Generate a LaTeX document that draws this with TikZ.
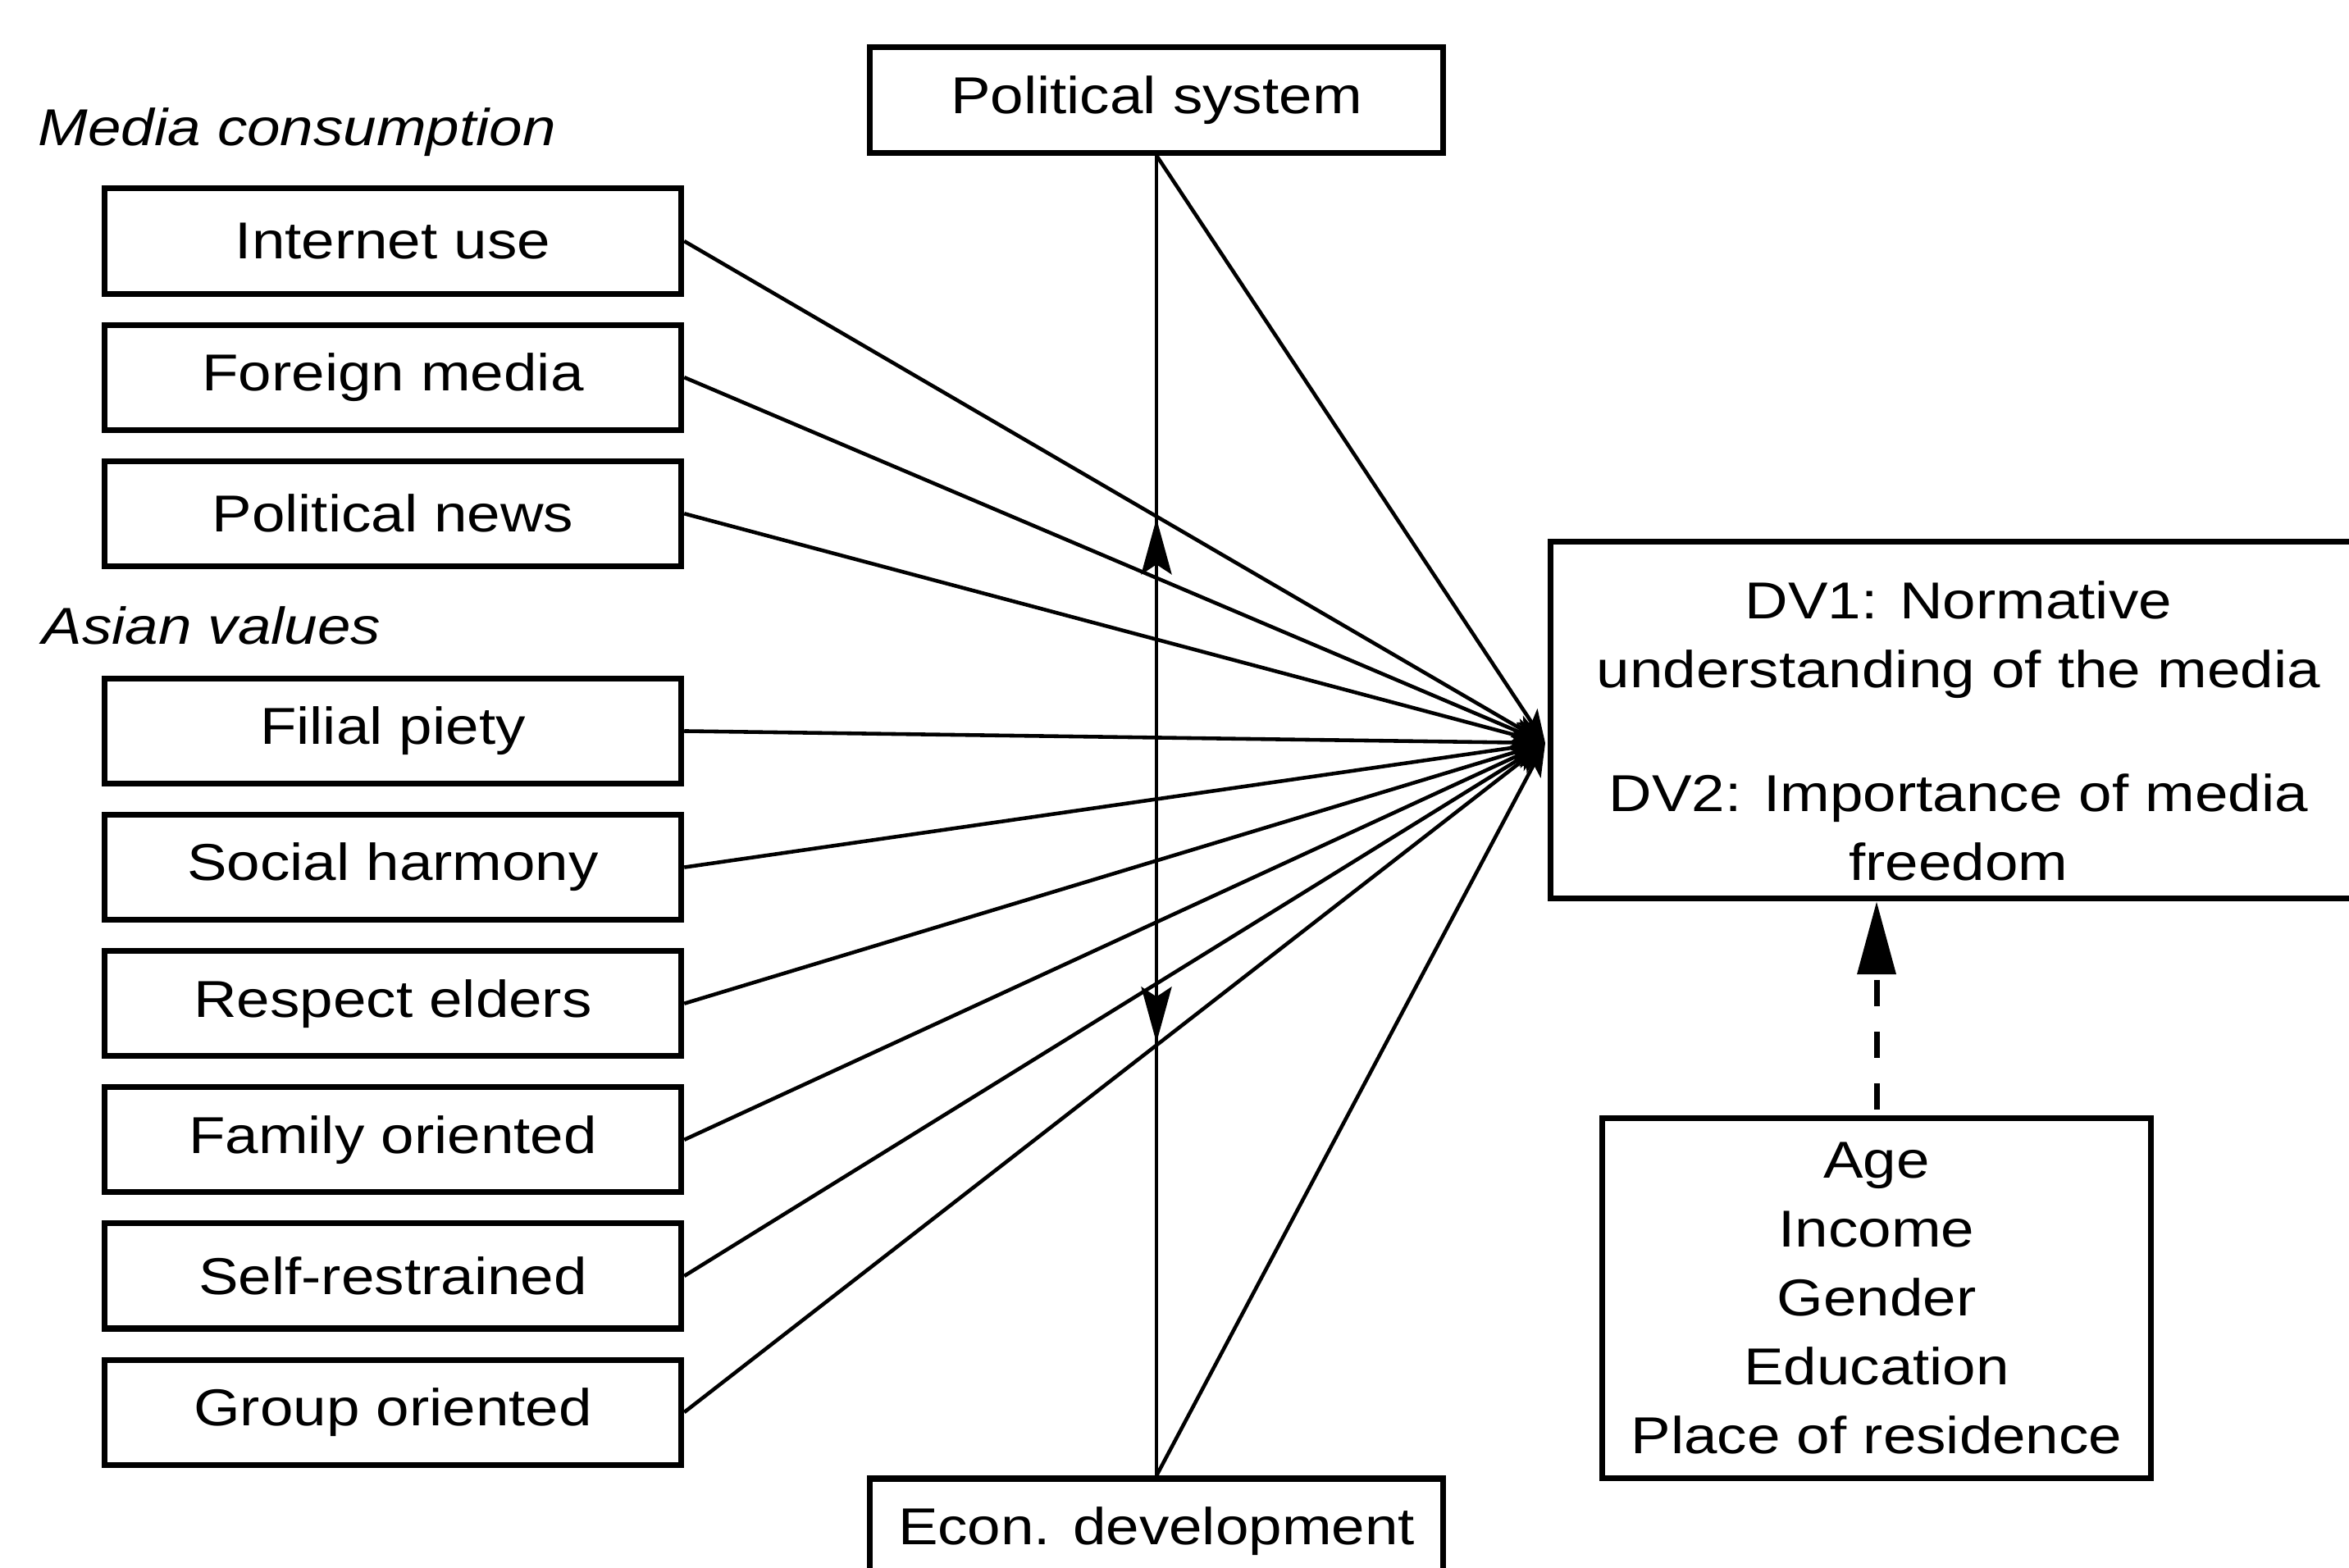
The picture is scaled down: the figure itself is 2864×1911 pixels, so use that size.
\documentclass[tikz,border=0pt]{standalone}
\usepackage{fontspec}
\setmainfont{Liberation Sans}[FakeStretch=1.15]
\usetikzlibrary{arrows.meta, positioning, decorations.markings}

\begin{document}
\begin{tikzpicture}[
  x=0.01cm, y=-0.01cm,
  font=\fontsize{18}{23.9}\selectfont,
  box/.style={draw, line width=2pt, minimum width=7.03cm, minimum height=1.28cm, inner sep=0pt, align=center},
  head/.style={anchor=west, inner sep=0pt, font=\fontsize{18}{23.9}\selectfont\itshape},
  link/.style={-{Stealth[length=4mm, width=3mm, inset=1mm]}, line width=1.3pt},
  twoway/.style={line width=1.3pt, postaction={decorate}, decoration={markings,
      mark=at position 0.275 with {\arrowreversed{Stealth[length=6.8mm, width=3.7mm, inset=1.2mm]}},
      mark=at position 0.672 with {\arrow{Stealth[length=6.8mm, width=3.7mm, inset=1.2mm]}}}},
  dasharr/.style={-{Triangle[length=8.9mm, width=4.6mm]}, line width=2pt, dash pattern=on 3.2mm off 3.1mm, dash phase=5.6mm}
]
  \useasboundingbox (0,0) rectangle (2864,1911);

  % left column
  \node[head] (mediahead) at (46,161) {Media consumption};
  \node[box] (internet) at (479,294) {Internet use};
  \node[box, below=0.31cm of internet] (foreign) {Foreign media};
  \node[box, below=0.31cm of foreign] (polnews) {Political news};
  \node[head] (asianhead) at (51,763) {Asian values};
  \node[box, below=1.30cm of polnews] (filial) {Filial piety};
  \node[box, below=0.31cm of filial] (harmony) {Social harmony};
  \node[box, below=0.31cm of harmony] (elders) {Respect elders};
  \node[box, below=0.31cm of elders] (family) {Family oriented};
  \node[box, below=0.31cm of family] (restrained) {Self-restrained};
  \node[box, below=0.31cm of restrained] (group) {Group oriented};

  % middle and right
  \node[box, minimum width=6.99cm] (pol) at (1410,122) {Political system};
  \node[box, minimum width=6.99cm] (econ) at (1410,1867) {Econ. development};
  \node[box, anchor=west, minimum width=9.94cm, minimum height=4.35cm] (dv) at (1887,878) {};
  \node[align=center, inner sep=0pt] (dvtext) at ([yshift=-0.13cm]dv.center)
    {DV1: Normative\\understanding of the media\\[6.7mm]DV2: Importance of media\\freedom};
  \node[box, minimum width=6.69cm, minimum height=4.39cm] (controls) at (2288,1583)
    {Age\\Income\\Gender\\Education\\Place of residence};
  \coordinate (hub) at (1884,906);

  % connectors
  \foreach \n in {internet, foreign, polnews, filial, harmony, elders, family, restrained, group}
    \draw[link] (\n.east) -- (hub);
  \draw[link] (pol.south) -- (hub);
  \draw[link] (econ.north) -- (hub);
  \draw[twoway] (pol.south) -- (econ.north);
  \draw[dasharr] (controls.north) -- (controls.north |- dv.south);
\end{tikzpicture}
\end{document}
